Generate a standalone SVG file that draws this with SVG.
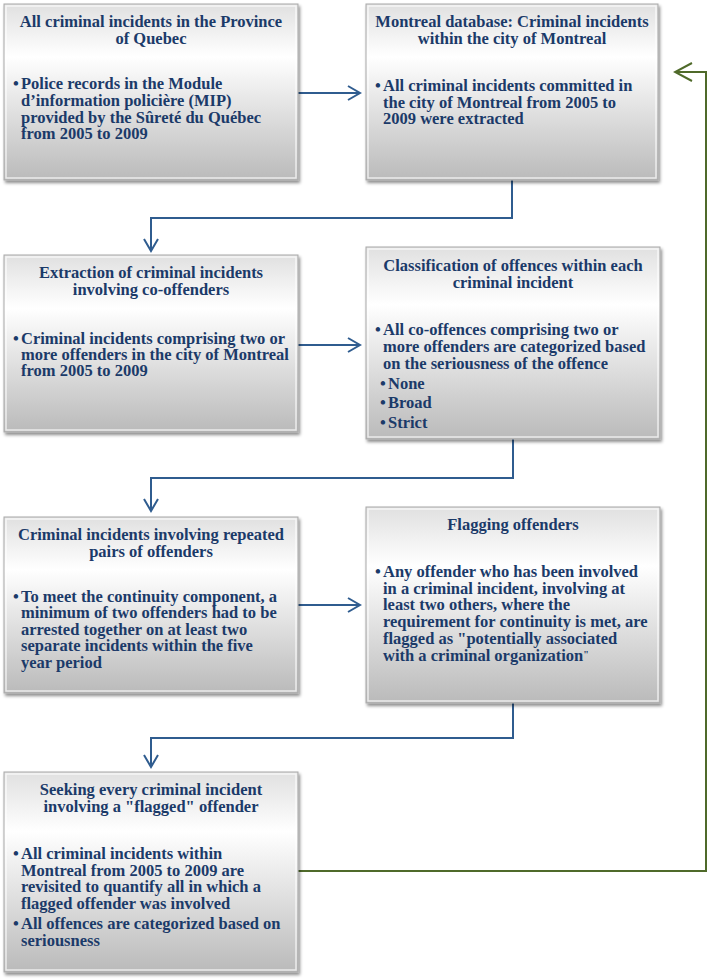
<svg xmlns="http://www.w3.org/2000/svg" width="708" height="980" viewBox="0 0 708 980">
<style>
.t{font-family:"Liberation Serif","Times New Roman",serif;font-weight:bold;font-size:16.5px;fill:#1b3a69}
.c{text-anchor:middle}
.box{fill:url(#g);stroke:#a9a9a9;stroke-width:1}
.bev{fill:none;stroke:#ffffff;stroke-opacity:0.7;stroke-width:1.5}
.bl{fill:none;stroke:#2f5c8f;stroke-width:2}
.gr{fill:none;stroke:#4f6a2a;stroke-width:2}
</style>
<defs>
<linearGradient id="g" x1="0" y1="0" x2="0" y2="1">
<stop offset="0" stop-color="#e0e0e0"/>
<stop offset="0.3" stop-color="#ffffff"/>
<stop offset="1" stop-color="#bababa"/>
</linearGradient>
<filter id="sh" x="-5%" y="-5%" width="112%" height="115%">
<feDropShadow dx="1.5" dy="2.5" stdDeviation="1.5" flood-color="#000" flood-opacity="0.45"/>
</filter>
<marker id="ab" viewBox="-14 -9 16 18" refX="0" refY="0" markerWidth="16" markerHeight="18" markerUnits="userSpaceOnUse" orient="auto">
<path d="M-12,-7 L0,0 L-12,7" fill="none" stroke="#2f5c8f" stroke-width="2"/>
</marker>
<marker id="ag" viewBox="-19 -11 21 22" refX="0" refY="0" markerWidth="21" markerHeight="22" markerUnits="userSpaceOnUse" orient="auto">
<path d="M-17,-9 L0,0 L-17,9" fill="none" stroke="#4f6a2a" stroke-width="2"/>
</marker>
</defs>

<g id="connectors">
<path class="bl" d="M298,93 H360" marker-end="url(#ab)"/>
<path class="bl" d="M512,180 V218 H151 V251" marker-end="url(#ab)"/>
<path class="bl" d="M298,345 H360" marker-end="url(#ab)"/>
<path class="bl" d="M513,439 V478 H151 V511" marker-end="url(#ab)"/>
<path class="bl" d="M298,605 H360" marker-end="url(#ab)"/>
<path class="bl" d="M513,703 V738 H151 V767" marker-end="url(#ab)"/>
<path class="gr" d="M298,871 H706 V72 H675" marker-end="url(#ag)"/>
</g>

<g id="n1">
<rect class="box" x="4" y="4" width="294" height="176" filter="url(#sh)"/>
<rect class="bev" x="6" y="6" width="290" height="172"/>
<text class="t c"><tspan x="151" y="27">All criminal incidents in the Province</tspan><tspan x="151" y="44">of Quebec</tspan></text>
<text class="t" x="13" y="89">•</text>
<text class="t"><tspan x="21" y="89">Police records in the Module</tspan><tspan x="21" y="106">d’information policière (MIP)</tspan><tspan x="21" y="123">provided by the Sûreté du Québec</tspan><tspan x="21" y="139">from 2005 to 2009</tspan></text>
</g>

<g id="n2">
<rect class="box" x="366" y="4" width="292" height="176" filter="url(#sh)"/>
<rect class="bev" x="368" y="6" width="288" height="172"/>
<text class="t c"><tspan x="512" y="27">Montreal database: Criminal incidents</tspan><tspan x="512" y="44">within the city of Montreal</tspan></text>
<text class="t" x="375" y="91">•</text>
<text class="t"><tspan x="383" y="91">All criminal incidents committed in</tspan><tspan x="383" y="108">the city of Montreal from 2005 to</tspan><tspan x="383" y="124">2009 were extracted</tspan></text>
</g>

<g id="n3">
<rect class="box" x="4" y="255" width="294" height="177" filter="url(#sh)"/>
<rect class="bev" x="6" y="257" width="290" height="173"/>
<text class="t c"><tspan x="151" y="278">Extraction of criminal incidents</tspan><tspan x="151" y="295">involving co-offenders</tspan></text>
<text class="t" x="13" y="344">•</text>
<text class="t"><tspan x="21" y="344">Criminal incidents comprising two or</tspan><tspan x="21" y="360">more offenders in the city of Montreal</tspan><tspan x="21" y="376">from 2005 to 2009</tspan></text>
</g>

<g id="n4">
<rect class="box" x="366" y="247" width="294" height="192" filter="url(#sh)"/>
<rect class="bev" x="368" y="249" width="290" height="188"/>
<text class="t c"><tspan x="513" y="271">Classification of offences within each</tspan><tspan x="513" y="288">criminal incident</tspan></text>
<text class="t" x="375" y="335">•</text>
<text class="t"><tspan x="383" y="335">All co-offences comprising two or</tspan><tspan x="383" y="352">more offenders are categorized based</tspan><tspan x="383" y="369">on the seriousness of the offence</tspan></text>
<text class="t"><tspan x="380" y="389">•</tspan><tspan x="380" y="408">•</tspan><tspan x="380" y="428">•</tspan></text>
<text class="t"><tspan x="388" y="389">None</tspan><tspan x="388" y="408">Broad</tspan><tspan x="388" y="428">Strict</tspan></text>
</g>

<g id="n5">
<rect class="box" x="4" y="517" width="294" height="176" filter="url(#sh)"/>
<rect class="bev" x="6" y="519" width="290" height="172"/>
<text class="t c"><tspan x="151" y="540">Criminal incidents involving repeated</tspan><tspan x="151" y="557">pairs of offenders</tspan></text>
<text class="t" x="13" y="602">•</text>
<text class="t"><tspan x="21" y="602">To meet the continuity component, a</tspan><tspan x="21" y="618">minimum of two offenders had to be</tspan><tspan x="21" y="635">arrested together on at least two</tspan><tspan x="21" y="651">separate incidents within the five</tspan><tspan x="21" y="668">year period</tspan></text>
</g>

<g id="n6">
<rect class="box" x="366" y="507" width="294" height="196" filter="url(#sh)"/>
<rect class="bev" x="368" y="509" width="290" height="192"/>
<text class="t c" x="513" y="530">Flagging offenders</text>
<text class="t" x="375" y="577">•</text>
<text class="t"><tspan x="383" y="577">Any offender who has been involved</tspan><tspan x="383" y="594">in a criminal incident, involving at</tspan><tspan x="383" y="610">least two others, where the</tspan><tspan x="383" y="627">requirement for continuity is met, are</tspan><tspan x="383" y="644">flagged as "potentially associated</tspan><tspan x="383" y="661">with a criminal organization</tspan><tspan font-size="10" dy="-3">"</tspan></text>
</g>

<g id="n7">
<rect class="box" x="4" y="772" width="294" height="200" filter="url(#sh)"/>
<rect class="bev" x="6" y="774" width="290" height="196"/>
<text class="t c"><tspan x="151" y="795">Seeking every criminal incident</tspan><tspan x="151" y="812">involving a "flagged" offender</tspan></text>
<text class="t"><tspan x="13" y="859">•</tspan><tspan x="13" y="929">•</tspan></text>
<text class="t"><tspan x="21" y="859">All criminal incidents within</tspan><tspan x="21" y="876">Montreal from 2005 to 2009 are</tspan><tspan x="21" y="892">revisited to quantify all in which a</tspan><tspan x="21" y="909">flagged offender was involved</tspan></text>
<text class="t"><tspan x="21" y="929">All offences are categorized based on</tspan><tspan x="21" y="946">seriousness</tspan></text>
</g>
</svg>
